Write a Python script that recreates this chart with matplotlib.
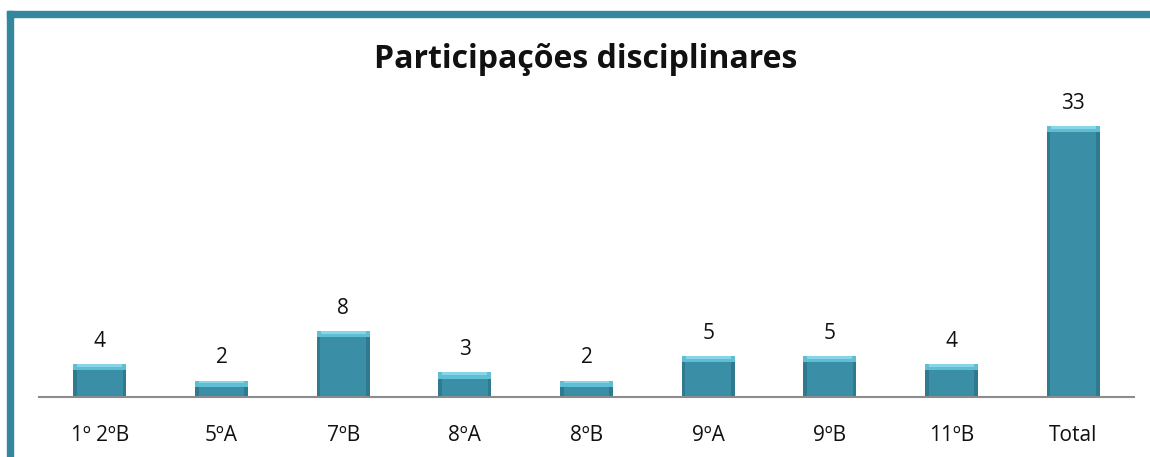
import numpy as np
import matplotlib
matplotlib.use('Agg')
import matplotlib.pyplot as plt
from matplotlib.patches import Rectangle

plt.rcParams['font.family'] = ['Open Sans', 'DejaVu Sans']

categories = ['1º 2ºB', '5ºA', '7ºB', '8ºA', '8ºB', '9ºA', '9ºB', '11ºB', 'Total']
values = [4, 2, 8, 3, 2, 5, 5, 4, 33]

W, H = 1150, 457
fig = plt.figure(figsize=(W / 100, H / 100), dpi=100)

# frame of the original slide (top and left edges visible)
frame_col = '#35879f'
fig.patches.append(Rectangle((7 / W, 0), 5.5 / W, 1 - 11 / H, transform=fig.transFigure,
                             color=frame_col, zorder=0))
fig.patches.append(Rectangle((7 / W, 1 - 16.5 / H), 1, 5.5 / H, transform=fig.transFigure,
                             color=frame_col, zorder=0))

ax = fig.add_axes([39 / W, 60 / H, 1095 / W, 295.6 / H])
x = np.arange(len(categories))
vals = np.array(values, dtype=float)
bw = 0.435

# main bars
ax.bar(x, vals, width=bw, color='#3a8ea6', edgecolor='none', zorder=2)
# darker sides
ax.bar(x - bw / 2 + 0.015, vals, width=0.03, color='#307a90', edgecolor='none', zorder=3)
ax.bar(x + bw / 2 - 0.015, vals, width=0.03, color='#307a90', edgecolor='none', zorder=3)
# light bevel on top
cap = np.minimum(0.75, vals * 0.45)
ax.bar(x, cap, bottom=vals - cap, width=bw, color='#5fbdd4', edgecolor='none', zorder=4)
ax.bar(x, cap * 0.45, bottom=vals - cap * 0.45, width=bw * 0.85, color='#86d6e8',
       edgecolor='none', zorder=5)

for xi, v in zip(x, values):
    ax.text(xi, v + 1.5, str(v), ha='center', va='bottom', fontsize=15, color='#111111')

ax.set_xlim(-0.5, len(categories) - 0.5)
ax.set_ylim(0, 36)
ax.set_xticks(x)
ax.set_xticklabels(categories, fontsize=15, color='#111111')
ax.tick_params(axis='x', length=0, pad=20)
ax.set_yticks([])
for s in ['top', 'right', 'left']:
    ax.spines[s].set_visible(False)
ax.spines['bottom'].set_color('#8c8c8c')
ax.spines['bottom'].set_linewidth(1.5)
ax.spines['bottom'].set_zorder(6)

fig.text(586 / W, 1 - 60 / H, 'Participações disciplinares', ha='center', va='center',
         fontsize=23, fontweight='bold', color='#111111')

fig.savefig('out.png', dpi=100)
